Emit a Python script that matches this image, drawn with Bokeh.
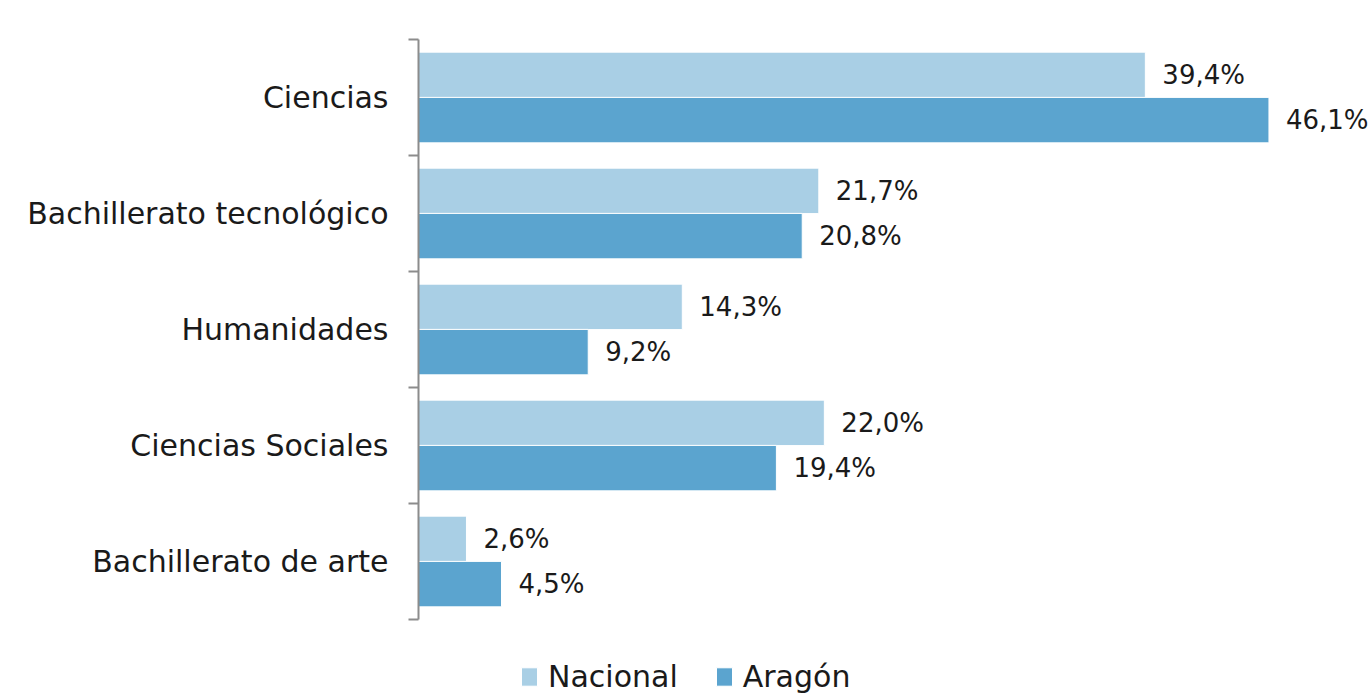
from bokeh.plotting import figure
from bokeh.models import ColumnDataSource, LabelSet, FixedTicker, Range1d, Legend, LegendItem
from bokeh.core.properties import value
from bokeh.embed import file_html
from bokeh.resources import INLINE

categories = ["Ciencias", "Bachillerato tecnológico", "Humanidades", "Ciencias Sociales", "Bachillerato de arte"]
nacional = [39.4, 21.7, 14.3, 22.0, 2.6]
aragon = [46.1, 20.8, 9.2, 19.4, 4.5]
series_names = ["Nacional", "Aragón"]
colors = ["#a9cfe5", "#5ba4cf"]

FONT = "DejaVu Sans"
VSIZE = "26px"
CSIZE = "30px"
n = len(categories)
centers = [n - i - 0.5 for i in range(n)]  # top-to-bottom order

def fmt(v):
    return f"{v:.1f}%".replace(".", ",")

# frame runs to the bottom of the figure so the legend can sit inside it
p = figure(width=1369, height=693, output_backend="svg", toolbar_location=None,
           x_range=Range1d(0, 51.55), y_range=Range1d(-0.638, n),
           min_border_left=418, min_border_right=0, min_border_top=39, min_border_bottom=0)
p.outline_line_color = None
p.grid.visible = False
p.xaxis.visible = False
p.background_fill_color = "white"
p.border_fill_color = "white"

renderers = []
offsets = [0.195, -0.195]
for vals, off, col in zip([nacional, aragon], offsets, colors):
    ys = [c + off for c in centers]
    src = ColumnDataSource(dict(y=ys, v=vals, lab=[fmt(v) for v in vals]))
    r = p.hbar(y="y", right="v", left=0, height=0.392, source=src,
               fill_color=col, line_color="white", line_width=1)
    renderers.append(r)
    p.add_layout(LabelSet(x="v", y="y", text="lab", source=src, x_offset=17,
                          text_font=value(FONT), text_font_size=value(VSIZE), text_color="#1a1a1a",
                          text_baseline="middle", text_align="left"))

yax = p.yaxis[0]
yax.bounds = (0, n)
yax.ticker = FixedTicker(ticks=centers, minor_ticks=list(range(n + 1)))
yax.major_label_overrides = {c: cat for c, cat in zip(centers, categories)}
yax.major_tick_line_color = None
yax.major_tick_out = 10
yax.major_tick_in = 0
yax.minor_tick_line_color = "#8c8c8c"
yax.minor_tick_line_width = 2
yax.minor_tick_out = 10
yax.minor_tick_in = 0
yax.axis_line_color = "#8c8c8c"
yax.axis_line_width = 2
yax.major_label_standoff = 20
yax.major_label_text_font = FONT
yax.major_label_text_font_size = CSIZE
yax.major_label_text_color = "#1a1a1a"
yax.major_label_text_font_style = "normal"

legend = Legend(items=[LegendItem(label=series_names[i], renderers=[renderers[i]]) for i in range(2)],
                orientation="horizontal", location=(101, -1),
                label_text_font=FONT, label_text_font_size=CSIZE, label_text_color="#1a1a1a",
                glyph_width=20, glyph_height=23, spacing=36, label_standoff=9,
                border_line_color=None, background_fill_alpha=0, padding=0, margin=0)
p.add_layout(legend, "center")

open("out.html", "w").write(file_html(p, INLINE))
